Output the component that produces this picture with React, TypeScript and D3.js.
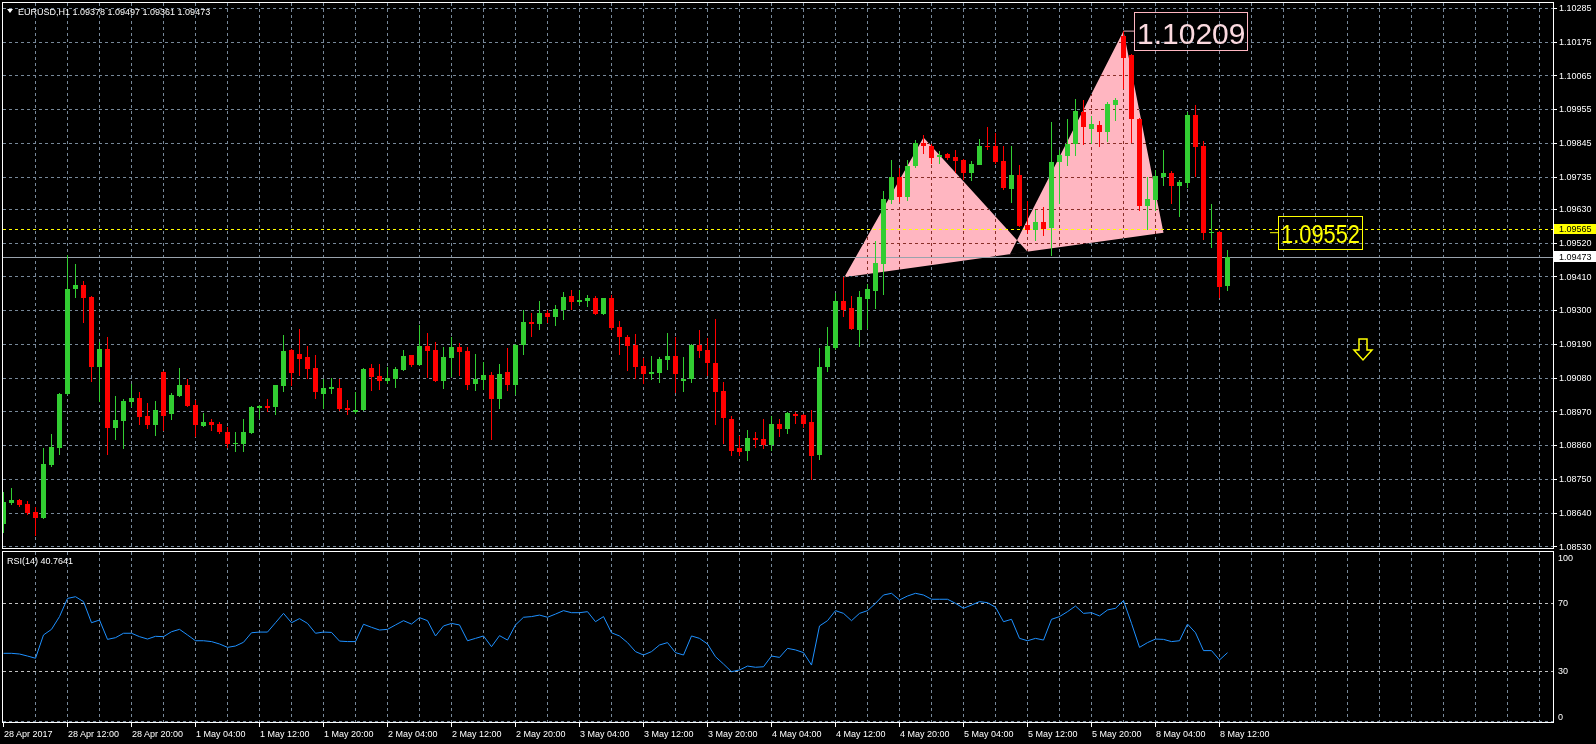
import React from 'react';
import * as d3 from 'd3';

const W = 1596;
const H = 744;

const opens = [
  1.08604, 1.08671, 1.08681, 1.08668, 1.08642, 1.08623, 1.08796, 1.08851, 1.09025, 1.09368,
  1.09380, 1.09342, 1.09114, 1.09173, 1.08917, 1.08938, 1.09000, 1.09013, 1.08955, 1.08925,
  1.09098, 1.08961, 1.09020, 1.09056, 1.08990, 1.08922, 1.08935, 1.08929, 1.08902, 1.08864,
  1.08863, 1.08899, 1.08982, 1.08987, 1.08984, 1.09052, 1.09170, 1.09157, 1.09147, 1.09111,
  1.09026, 1.09043, 1.09046, 1.08981, 1.08968, 1.08974, 1.09111, 1.09085, 1.09069, 1.09075,
  1.09104, 1.09153, 1.09121, 1.09183, 1.09170, 1.09068, 1.09144, 1.09179, 1.09166, 1.09059,
  1.09072, 1.09088, 1.09010, 1.09098, 1.09055, 1.09186, 1.09261, 1.09255, 1.09291, 1.09277,
  1.09300, 1.09346, 1.09326, 1.09330, 1.09340, 1.09287, 1.09340, 1.09245, 1.09212, 1.09186,
  1.09117, 1.09091, 1.09094, 1.09137, 1.09150, 1.09068, 1.09075, 1.09186, 1.09170, 1.09127,
  1.09036, 1.08944, 1.08849, 1.08840, 1.08882, 1.08879, 1.08859, 1.08928, 1.08912, 1.08961,
  1.08957, 1.08934, 1.08827, 1.09114, 1.09176, 1.09329, 1.09307, 1.09235, 1.09336, 1.09362,
  1.09450, 1.09660, 1.09735, 1.09670, 1.09768, 1.09846, 1.09836, 1.09800, 1.09807, 1.09800,
  1.09790, 1.09745, 1.09774, 1.09836, 1.09833, 1.09787, 1.09696, 1.09741, 1.09577, 1.09560,
  1.09587, 1.09567, 1.09781, 1.09801, 1.09840, 1.09945, 1.09889, 1.09903, 1.09879, 1.09968,
  1.10192, 1.10130, 1.09922, 1.09639, 1.09659, 1.09735, 1.09745, 1.09705, 1.09715, 1.09935,
  1.09833, 1.09553, 1.09554, 1.09378,
];

const highs = [
  1.08706, 1.08720, 1.08684, 1.08677, 1.08659, 1.08849, 1.08896, 1.09030, 1.09480, 1.09450,
  1.09394, 1.09345, 1.09195, 1.09212, 1.09020, 1.09010, 1.09059, 1.09032, 1.08997, 1.09003,
  1.09100, 1.09030, 1.09111, 1.09075, 1.09007, 1.08964, 1.08945, 1.08935, 1.08919, 1.08902,
  1.08945, 1.08987, 1.08990, 1.09010, 1.09056, 1.09218, 1.09173, 1.09238, 1.09183, 1.09153,
  1.09075, 1.09078, 1.09075, 1.09007, 1.09033, 1.09111, 1.09124, 1.09124, 1.09114, 1.09114,
  1.09170, 1.09155, 1.09251, 1.09225, 1.09196, 1.09179, 1.09212, 1.09193, 1.09179, 1.09157,
  1.09130, 1.09098, 1.09124, 1.09176, 1.09189, 1.09300, 1.09291, 1.09330, 1.09300, 1.09317,
  1.09359, 1.09366, 1.09366, 1.09349, 1.09346, 1.09340, 1.09349, 1.09264, 1.09219, 1.09222,
  1.09144, 1.09150, 1.09147, 1.09225, 1.09212, 1.09147, 1.09189, 1.09235, 1.09209, 1.09271,
  1.09065, 1.08954, 1.08889, 1.08908, 1.08902, 1.08944, 1.08954, 1.08944, 1.08967, 1.08967,
  1.08960, 1.08974, 1.09176, 1.09245, 1.09356, 1.09408, 1.09346, 1.09362, 1.09385, 1.09526,
  1.09689, 1.09790, 1.09764, 1.09790, 1.09853, 1.09869, 1.09840, 1.09817, 1.09813, 1.09820,
  1.09792, 1.09787, 1.09859, 1.09898, 1.09876, 1.09833, 1.09833, 1.09772, 1.09656, 1.09626,
  1.09636, 1.09912, 1.09820, 1.09922, 1.09988, 1.09985, 1.09932, 1.09916, 1.09978, 1.09991,
  1.10209, 1.10136, 1.09925, 1.09735, 1.09758, 1.09820, 1.09754, 1.09725, 1.09945, 1.09968,
  1.09850, 1.09646, 1.09556, 1.09497,
];

const lows = [
  1.08572, 1.08665, 1.08659, 1.08631, 1.08564, 1.08620, 1.08790, 1.08828, 1.09023, 1.09340,
  1.09258, 1.09065, 1.09000, 1.08828, 1.08876, 1.08847, 1.08985, 1.08925, 1.08912, 1.08889,
  1.08906, 1.08942, 1.09018, 1.08985, 1.08886, 1.08919, 1.08906, 1.08896, 1.08850, 1.08837,
  1.08837, 1.08896, 1.08945, 1.08968, 1.08958, 1.09033, 1.09052, 1.09085, 1.09075, 1.09010,
  1.08977, 1.09026, 1.08972, 1.08958, 1.08961, 1.08972, 1.09036, 1.09039, 1.09059, 1.09046,
  1.09102, 1.09114, 1.09118, 1.09080, 1.09065, 1.09042, 1.09081, 1.09085, 1.09039, 1.09036,
  1.09039, 1.08876, 1.08977, 1.09036, 1.09023, 1.09153, 1.09212, 1.09235, 1.09258, 1.09248,
  1.09268, 1.09300, 1.09317, 1.09310, 1.09285, 1.09284, 1.09235, 1.09153, 1.09101, 1.09075,
  1.09059, 1.09072, 1.09062, 1.09104, 1.09029, 1.09032, 1.09062, 1.09144, 1.09085, 1.08925,
  1.08863, 1.08823, 1.08823, 1.08807, 1.08849, 1.08846, 1.08840, 1.08885, 1.08895, 1.08928,
  1.08915, 1.08745, 1.08810, 1.09098, 1.09169, 1.09277, 1.09235, 1.09179, 1.09238, 1.09303,
  1.09349, 1.09647, 1.09653, 1.09656, 1.09764, 1.09810, 1.09777, 1.09777, 1.09790, 1.09748,
  1.09725, 1.09722, 1.09772, 1.09823, 1.09777, 1.09692, 1.09650, 1.09570, 1.09547, 1.09524,
  1.09541, 1.09475, 1.09646, 1.09768, 1.09801, 1.09837, 1.09840, 1.09830, 1.09847, 1.09916,
  1.10021, 1.09843, 1.09623, 1.09560, 1.09623, 1.09705, 1.09646, 1.09603, 1.09698, 1.09735,
  1.09527, 1.09501, 1.09340, 1.09361,
];

const closes = [
  1.08674, 1.08681, 1.08665, 1.08640, 1.08623, 1.08798, 1.08854, 1.09026, 1.09368, 1.09380,
  1.09340, 1.09114, 1.09173, 1.08917, 1.08942, 1.09003, 1.09013, 1.08951, 1.08925, 1.08974,
  1.08955, 1.09023, 1.09056, 1.08987, 1.08925, 1.08935, 1.08925, 1.08902, 1.08863, 1.08867,
  1.08902, 1.08984, 1.08987, 1.08982, 1.09056, 1.09166, 1.09095, 1.09140, 1.09108, 1.09033,
  1.09046, 1.09049, 1.08977, 1.08974, 1.08974, 1.09108, 1.09082, 1.09069, 1.09078, 1.09108,
  1.09150, 1.09121, 1.09183, 1.09166, 1.09068, 1.09147, 1.09179, 1.09163, 1.09055, 1.09075,
  1.09088, 1.09010, 1.09091, 1.09055, 1.09186, 1.09261, 1.09255, 1.09291, 1.09277, 1.09304,
  1.09343, 1.09326, 1.09333, 1.09340, 1.09287, 1.09340, 1.09241, 1.09212, 1.09183, 1.09114,
  1.09091, 1.09098, 1.09140, 1.09150, 1.09091, 1.09075, 1.09186, 1.09166, 1.09127, 1.09032,
  1.08947, 1.08840, 1.08836, 1.08882, 1.08876, 1.08859, 1.08928, 1.08912, 1.08964, 1.08954,
  1.08928, 1.08823, 1.09114, 1.09183, 1.09329, 1.09300, 1.09238, 1.09343, 1.09369, 1.09454,
  1.09663, 1.09735, 1.09670, 1.09771, 1.09846, 1.09836, 1.09794, 1.09804, 1.09797, 1.09787,
  1.09745, 1.09777, 1.09836, 1.09830, 1.09784, 1.09699, 1.09741, 1.09573, 1.09560, 1.09587,
  1.09564, 1.09781, 1.09804, 1.09840, 1.09949, 1.09896, 1.09906, 1.09879, 1.09972, 1.09985,
  1.10120, 1.09922, 1.09639, 1.09662, 1.09738, 1.09745, 1.09705, 1.09718, 1.09935, 1.09830,
  1.09550, 1.09555, 1.09375, 1.09473,
];

const rsiValues = [
  40.4, 40.4, 40.0, 38.8, 37.5, 51.2, 54.5, 62.0, 72.7, 73.7,
  70.8, 58.4, 60.0, 48.6, 49.6, 52.2, 52.2, 50.2, 48.8, 50.4,
  50.2, 53.1, 54.5, 51.2, 47.8, 47.8, 47.3, 45.9, 43.9, 44.7,
  46.9, 52.5, 52.9, 52.9, 58.4, 63.9, 58.4, 60.8, 58.0, 52.2,
  52.9, 52.7, 47.6, 47.3, 47.3, 57.5, 55.7, 54.1, 54.5, 57.1,
  59.6, 57.6, 61.4, 59.6, 50.6, 56.5, 58.0, 57.1, 47.8, 49.2,
  50.6, 44.3, 50.8, 48.2, 57.1, 61.6, 62.0, 62.9, 61.6, 63.5,
  65.5, 64.3, 64.3, 64.9, 59.0, 62.0, 52.5, 50.6, 46.7, 41.4,
  39.4, 41.4, 45.3, 46.7, 40.8, 39.4, 50.6, 49.2, 45.9, 38.4,
  34.1, 29.6, 30.6, 32.9, 32.2, 32.5, 38.8, 38.0, 43.3, 42.4,
  40.8, 33.5, 56.5, 59.6, 65.5, 63.9, 59.6, 63.9, 65.5, 69.8,
  74.7, 75.7, 71.8, 74.1, 75.7, 74.7, 72.2, 72.2, 72.2, 69.8,
  66.9, 68.8, 70.8, 70.2, 67.5, 59.0, 60.4, 49.2, 47.8, 49.2,
  48.2, 60.4, 62.0, 64.9, 68.2, 63.9, 64.3, 62.4, 65.9, 66.9,
  71.4, 58.0, 43.9, 46.7, 48.8, 48.6, 47.3, 47.8, 57.6, 52.5,
  42.0, 42.0, 36.5, 40.7641,
];

const priceTicks = [
  1.10285, 1.10175, 1.10065, 1.09955, 1.09845, 1.09735, 1.0963, 1.0952, 1.0941,
  1.093, 1.0919, 1.0908, 1.0897, 1.0886, 1.0875, 1.0864, 1.0853,
];
const rsiTicks = [100, 70, 30, 0];
const rsiLevels = [70, 30];

const timeLabelBars = [0, 8, 16, 24, 32, 40, 48, 56, 64, 72, 80, 88, 96, 104, 112, 120, 128, 136, 144, 152];
const timeLabelTexts = [
  '28 Apr 2017', '28 Apr 12:00', '28 Apr 20:00', '1 May 04:00', '1 May 12:00', '1 May 20:00',
  '2 May 04:00', '2 May 12:00', '2 May 20:00', '3 May 04:00', '3 May 12:00', '3 May 20:00',
  '4 May 04:00', '4 May 12:00', '4 May 20:00', '5 May 04:00', '5 May 12:00', '5 May 20:00',
  '8 May 04:00', '8 May 12:00',
];

const headerText = 'EURUSD,H1  1.09378 1.09497 1.09361 1.09473';
const rsiLabel = 'RSI(14) 40.7641';
const bidPrice = 1.09473;
const levelPrice = 1.09565;
const peakPrice = 1.10209;
const peakBar = 140;
const targetPrice = 1.09552;

// harmonic pattern triangles: [bar index, price]
const triangleOne = [[105.1, 1.09407], [115, 1.09862], [128, 1.0949]];
const triangleTwo = [[125.8, 1.09482], [140, 1.10209], [145, 1.09552]];

const FONT = "'Liberation Sans', Arial, sans-serif";
const GRID = '#778899';
const UP = '#32CD32';
const DOWN = '#FF0000';

export default function App() {
  const x = d3.scaleLinear().domain([0, 1]).range([3, 11]);
  const y = d3.scaleLinear().domain([1.0853, 1.10285]).range([546.3, 7.8]);
  const ry = d3.scaleLinear().domain([0, 100]).range([722, 552]);

  const L = 2.5, R = 1553.5;
  const mainTop = 2.5, mainBot = 548.5, rsiTop = 551.5, rsiBot = 722.5;

  const gridXs: number[] = [];
  for (let k = 1; x(4 * k) < 1552; k++) gridXs.push(x(4 * k) + 0.5);

  const triPath = (pts: number[][]) =>
    'M' + pts.map((p) => `${x(p[0]) + 0.5},${y(p[1])}`).join('L') + 'Z';

  const rsiLine = d3
    .line<number>()
    .x((_, i) => x(i) + 0.5)
    .y((v) => ry(v));

  const fmt = d3.format('.5f');
  const cPeak = x(peakBar) + 0.5;
  const yPeak = y(peakPrice);
  const yTarget = y(targetPrice);

  // arrow
  const ax = 1363, at = 339;
  const arrowPts = [
    [ax - 4, at], [ax + 4, at], [ax + 4, at + 11], [ax + 9, at + 11],
    [ax, at + 21], [ax - 9, at + 11], [ax - 4, at + 11],
  ];

  return (
    <div style={{ position: 'absolute', left: 0, top: 0, width: W, height: H, background: '#000' }}>
      <svg width={W} height={H} style={{ display: 'block', fontFamily: FONT }}>
        <rect x={0} y={0} width={W} height={H} fill="#000" />
        <defs>
          <clipPath id="mainClip">
            <rect x={3} y={3} width={1550} height={545} />
          </clipPath>
          <clipPath id="rsiClip">
            <rect x={3} y={552} width={1550} height={170} />
          </clipPath>
        </defs>

        {/* pattern triangles (XOR-like overlap) */}
        <g clipPath="url(#mainClip)">
          <path
            d={triPath(triangleOne) + triPath(triangleTwo)}
            fill="#FFB6C1"
            fillRule="evenodd"
          />
        </g>

        {/* grid */}
        <g style={{ mixBlendMode: 'difference' }} stroke={GRID} strokeDasharray="3,3" shapeRendering="crispEdges">
          {priceTicks.map((t) => (
            <line key={'h' + t} x1={L} x2={R} y1={Math.round(y(t)) + 0.5} y2={Math.round(y(t)) + 0.5} />
          ))}
          {gridXs.map((gx) => (
            <line key={'v' + gx} x1={gx} x2={gx} y1={mainTop} y2={mainBot} />
          ))}
          {gridXs.map((gx) => (
            <line key={'rv' + gx} x1={gx} x2={gx} y1={rsiTop} y2={rsiBot} />
          ))}
          <line x1={L} x2={R} y1={721.5} y2={721.5} />
        </g>
        <g stroke="#C0C0C0" strokeDasharray="3,3" shapeRendering="crispEdges">
          {rsiLevels.map((lv) => (
            <line key={'lv' + lv} x1={L} x2={R} y1={Math.round(ry(lv)) + 0.5} y2={Math.round(ry(lv)) + 0.5} />
          ))}
        </g>

        {/* price lines */}
        <line x1={L} x2={R} y1={Math.round(y(levelPrice)) + 0.5} y2={Math.round(y(levelPrice)) + 0.5}
          stroke="#FFFF00" strokeDasharray="3,3" shapeRendering="crispEdges" />
        <line x1={L} x2={R} y1={Math.round(y(bidPrice)) + 0.5} y2={Math.round(y(bidPrice)) + 0.5}
          stroke="#9AA3AD" shapeRendering="crispEdges" />

        {/* candles */}
        <g clipPath="url(#mainClip)" shapeRendering="crispEdges">
          {opens.map((o, i) => {
            const c = closes[i];
            const col = c >= o ? UP : DOWN;
            const cx = x(i);
            const yo = y(o), yc = y(c);
            const top = Math.min(yo, yc);
            const h = Math.max(1, Math.abs(yo - yc));
            return (
              <g key={i}>
                <line x1={cx + 0.5} x2={cx + 0.5} y1={y(highs[i])} y2={y(lows[i])} stroke={col} />
                <rect x={cx - 2} y={top} width={5} height={h} fill={col} />
              </g>
            );
          })}
        </g>

        {/* RSI */}
        <g clipPath="url(#rsiClip)">
          <path d={rsiLine(rsiValues) || ''} fill="none" stroke="#1E90FF" strokeWidth={1} />
        </g>

        {/* annotations */}
        <line x1={cPeak} x2={1134} y1={yPeak} y2={yPeak} stroke="#E8B0BA" />
        <rect x={1134.5} y={12.5} width={113} height={38} fill="none" stroke="#FFB6C1" />
        <text x={1137} y={44} fontSize={30} fill="#FBD9DF">{fmt(peakPrice)}</text>

        <line x1={1270} x2={1278} y1={yTarget} y2={yTarget} stroke="#FFFF00" />
        <rect x={1278.5} y={216.5} width={84} height={33} fill="none" stroke="#FFFF00" />
        <text x={1281} y={243} fontSize={26} fill="#FFFF00" textLength={79} lengthAdjust="spacingAndGlyphs">
          {fmt(targetPrice)}
        </text>

        <polygon points={arrowPts.map((p) => p.join(',')).join(' ')} fill="none" stroke="#FFFF00" strokeWidth={1.5} />

        {/* frames */}
        <g fill="none" stroke="#FFFFFF" shapeRendering="crispEdges">
          <rect x={L} y={mainTop} width={R - L} height={mainBot - mainTop} />
          <rect x={L} y={rsiTop} width={R - L} height={rsiBot - rsiTop} />
        </g>

        {/* header */}
        <polygon points="7,9 13,9 10,13" fill="#fff" />
        <text x={18} y={14.5} fontSize={9} fill="#fff">{headerText}</text>
        <text x={7} y={564} fontSize={9} fill="#fff">{rsiLabel}</text>

        {/* price axis */}
        <g shapeRendering="crispEdges">
          {priceTicks.map((t) => (
            <g key={'pt' + t}>
              <line x1={1554} x2={1557} y1={Math.round(y(t)) + 0.5} y2={Math.round(y(t)) + 0.5} stroke="#fff" />
              <text x={1559} y={y(t) + 3.3} fontSize={9} fill="#fff">{fmt(t)}</text>
            </g>
          ))}
          <rect x={1554} y={y(levelPrice) - 5} width={42} height={10} fill="#FFFF00" />
          <text x={1559} y={y(levelPrice) + 3.3} fontSize={9} fill="#000">{fmt(levelPrice)}</text>
          <rect x={1554} y={y(bidPrice) - 5.5} width={42} height={11} fill="#FFFFFF" />
          <text x={1559} y={y(bidPrice) + 3.3} fontSize={9} fill="#000">{fmt(bidPrice)}</text>
          {rsiTicks.map((t) => (
            <text key={'rt' + t} x={1558} y={ry(t) + (t === 100 ? 9 : t === 0 ? -2 : 3.3)} fontSize={9} fill="#fff">{t}</text>
          ))}
        </g>

        {/* time axis */}
        <g shapeRendering="crispEdges">
          {timeLabelBars.map((b, k) => (
            <g key={'tl' + b}>
              <line x1={x(b) + 0.5} x2={x(b) + 0.5} y1={723} y2={727} stroke="#fff" />
              <text x={x(b) + 1} y={736.5} fontSize={9} fill="#fff">{timeLabelTexts[k]}</text>
            </g>
          ))}
        </g>
      </svg>
    </div>
  );
}
